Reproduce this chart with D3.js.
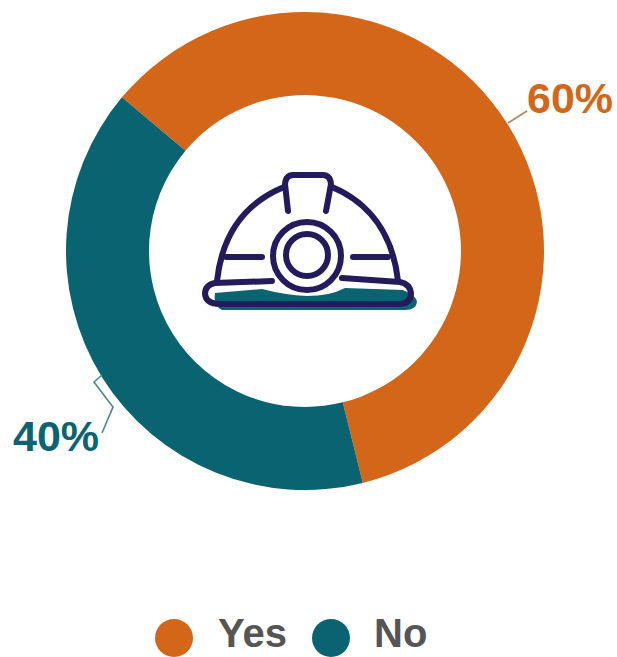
<!DOCTYPE html>
<html>
<head>
<meta charset="utf-8">
<script src="https://cdn.jsdelivr.net/npm/d3@7"></script>
<style>
  html, body { margin: 0; padding: 0; background: #fff; }
  svg { display: block; }
  text { font-family: "Liberation Sans", Arial, sans-serif; font-weight: 700; }
</style>
</head>
<body>
<svg id="chart" width="617" height="657"></svg>
<script>
const categories = ["Yes", "No"];
const shares = [60, 40];
const sliceColors = ["#D4661A", "#0A6370"];

const svg = d3.select("#chart");
const cx = 305, cy = 251, outerR = 239, innerR = 156;
const startAngle = -50 * Math.PI / 180;

const pie = d3.pie().sort(null).startAngle(startAngle).endAngle(startAngle + 2 * Math.PI);
const arc = d3.arc().innerRadius(innerR).outerRadius(outerR);
const color = d3.scaleOrdinal().domain(categories).range(sliceColors);

const ring = svg.append("g").attr("transform", `translate(${cx},${cy})`);
ring.selectAll("path")
  .data(pie(shares))
  .join("path")
  .attr("d", arc)
  .attr("fill", (d, i) => color(categories[i]));

// Leader lines and percentage labels
const line = d3.line();
const leaders = [
  [[508, 123], [527, 111]],
  [[102, 375], [94, 382], [113, 407], [102, 433]]
];
const labelAnchors = [[527, 113], [13, 451]];

svg.append("g").selectAll("path")
  .data(leaders)
  .join("path")
  .attr("d", d => line(d))
  .attr("fill", "none")
  .attr("stroke", (d, i) => i === 0 ? "#B9835F" : "#4F858C")
  .attr("stroke-width", 1.6);

svg.append("g").selectAll("text")
  .data(shares)
  .join("text")
  .attr("x", (d, i) => labelAnchors[i][0])
  .attr("y", (d, i) => labelAnchors[i][1])
  .attr("font-size", 43)
  .attr("fill", (d, i) => color(categories[i]))
  .text(d => d + "%");

// Hard hat icon in the middle of the ring: teal brim shadow first, navy outline on top
const navy = "#241B5C";

svg.append("path")
  .attr("d", "M215 293 L262 289 Q285 295 307 296 Q330 296 345 288 L403 290 Q417 296 417 302 Q416 310 405 310 L222 310 Q213 306 215 293 Z")
  .attr("fill", "#0A6370");

const hat = svg.append("g")
  .attr("fill", "none")
  .attr("stroke", navy)
  .attr("stroke-width", 6)
  .attr("stroke-linecap", "round")
  .attr("stroke-linejoin", "round");

hat.append("path").attr("d", "M217 281 C222 235 245 203 284 187");
hat.append("path").attr("d", "M398 281 C393 235 370 203 332 187");
hat.append("path").attr("d", "M288 211 L285 184 Q286 175 293 175 L323 175 Q330 175 331 184 L326 211");
hat.append("path").attr("d", "M226 257 L262 257");
hat.append("path").attr("d", "M353 257 L388 257");
hat.append("circle").attr("cx", 307).attr("cy", 256).attr("r", 34).attr("fill", "#fff");
hat.append("circle").attr("cx", 307).attr("cy", 255).attr("r", 21);
hat.append("path").attr("d", "M272 281 L215 283 Q205 285 205 294 Q206 304 220 304 L400 304 Q411 303 411 293 Q410 284 400 282 L342 278");

// Legend
const legendDots = [174, 331];
const legendLabels = [218, 374];
const legend = svg.append("g");
legend.selectAll("circle")
  .data(categories)
  .join("circle")
  .attr("cx", (d, i) => legendDots[i])
  .attr("cy", 638)
  .attr("r", 19)
  .attr("fill", d => color(d));
legend.selectAll("text")
  .data(categories)
  .join("text")
  .attr("x", (d, i) => legendLabels[i])
  .attr("y", 647)
  .attr("font-size", 40)
  .attr("fill", "#555555")
  .text(d => d);
</script>
</body>
</html>
